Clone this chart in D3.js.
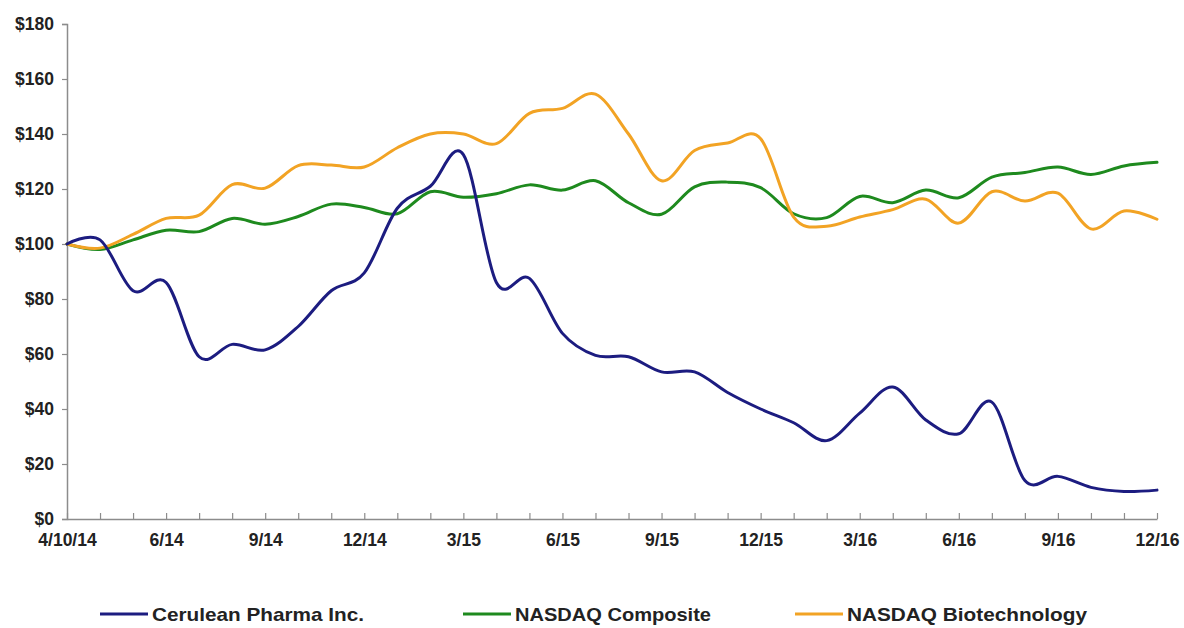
<!DOCTYPE html>
<html><head><meta charset="utf-8">
<script src="https://cdn.jsdelivr.net/npm/d3@7"></script>
<style>
html,body{margin:0;padding:0;background:#fff;}
text{font-family:"Liberation Sans",Arial,sans-serif;}
</style></head>
<body><svg id="c" width="1184" height="628"></svg>
<script>
const periods = ["4/10/14","4/14","5/14","6/14","7/14","8/14","9/14","10/14","11/14","12/14","1/15","2/15","3/15","4/15","5/15","6/15","7/15","8/15","9/15","10/15","11/15","12/15","1/16","2/16","3/16","4/16","5/16","6/16","7/16","8/16","9/16","10/16","11/16","12/16"];
const tickLabels = ["4/10/14","6/14","9/14","12/14","3/15","6/15","9/15","12/15","3/16","6/16","9/16","12/16"];
const yTicks = [0,20,40,60,80,100,120,140,160,180];
const cerulean = [100,101.5,83,86,59,63.5,61.5,70,83,89.5,113,121,132.5,86,87.5,67.5,59.5,59,53.5,53.5,46,40,35,28.5,38.5,48,36,31,42.5,14,15.5,11.5,10,10.5];
const nasdaqComposite = [100,98,101.5,105,104.5,109.3,107.2,110,114.5,113.3,111,119,117,118.3,121.5,119.6,123,115,110.8,120.8,122.5,120.5,111,109.6,117.3,115,119.6,116.8,124.3,126,128,125.3,128.4,129.7];
const nasdaqBiotech = [100,98.5,103.5,109.3,110.5,121.6,120.3,128.5,128.7,128,135,140,140,136.5,147.5,149.3,154.5,140,123,134,136.7,138.3,109.8,106.5,109.8,112.5,116.3,107.6,119,115.6,118.5,105.5,112,109];
const seriesNames = ["Cerulean Pharma Inc.","NASDAQ Composite","NASDAQ Biotechnology"];
const seriesColors = ["#1c1c80","#1e8a1e","#f2a324"];

const svg = d3.select("#c");
const x = d3.scalePoint().domain(periods).range([67,1157]);
const y = d3.scaleLinear().domain([0,180]).range([519,24]);

// axes
const yAxis = svg.append("g").attr("transform","translate(67,0)")
  .call(d3.axisLeft(y).tickValues(yTicks).tickSize(5).tickFormat(d=>"$"+d));
yAxis.select(".domain").attr("stroke","#8c8c8c").attr("stroke-width",1.5);
yAxis.selectAll(".tick line").attr("stroke","#8c8c8c").attr("stroke-width",1.2);
yAxis.selectAll(".tick text").attr("x",-13).attr("font-size",17.5).attr("font-weight","bold").attr("fill","#222")
  .attr("font-family","'Liberation Sans',Arial,sans-serif");

const xAxis = svg.append("g").attr("transform","translate(0,519)")
  .call(d3.axisBottom(x).tickSize(6).tickSizeOuter(0).tickFormat(d=>tickLabels.includes(d)?d:""));
xAxis.select(".domain").attr("stroke","#8c8c8c").attr("stroke-width",1.5);
xAxis.selectAll(".tick line").attr("stroke","#8c8c8c").attr("stroke-width",1.2).attr("y1",-6).attr("y2",0);
xAxis.selectAll(".tick text").attr("y",15).attr("font-size",17.5).attr("font-weight","bold").attr("fill","#222")
  .attr("font-family","'Liberation Sans',Arial,sans-serif");

// lines
const line = d3.line().x((d,i)=>x(periods[i])).y(d=>y(d)).curve(d3.curveCardinal.tension(0));
const allSeries = [cerulean, nasdaqComposite, nasdaqBiotech];
[1,2,0].forEach(k=>{
  svg.append("path").datum(allSeries[k]).attr("d",line)
    .attr("fill","none").attr("stroke",seriesColors[k]).attr("stroke-width",3)
    .attr("stroke-linejoin","round").attr("stroke-linecap","round");
});

// legend
const legX = [100,463,795];
const legTextW = [212,196,240];
const lg = svg.append("g");
seriesNames.forEach((n,i)=>{
  lg.append("line").attr("x1",legX[i]).attr("x2",legX[i]+48).attr("y1",614).attr("y2",614)
    .attr("stroke",seriesColors[i]).attr("stroke-width",3);
  lg.append("text").attr("x",legX[i]+52).attr("y",621).attr("font-size",19).attr("font-weight","bold")
    .attr("fill","#222").attr("textLength",legTextW[i]).attr("lengthAdjust","spacingAndGlyphs").text(n);
});
</script></body></html>
